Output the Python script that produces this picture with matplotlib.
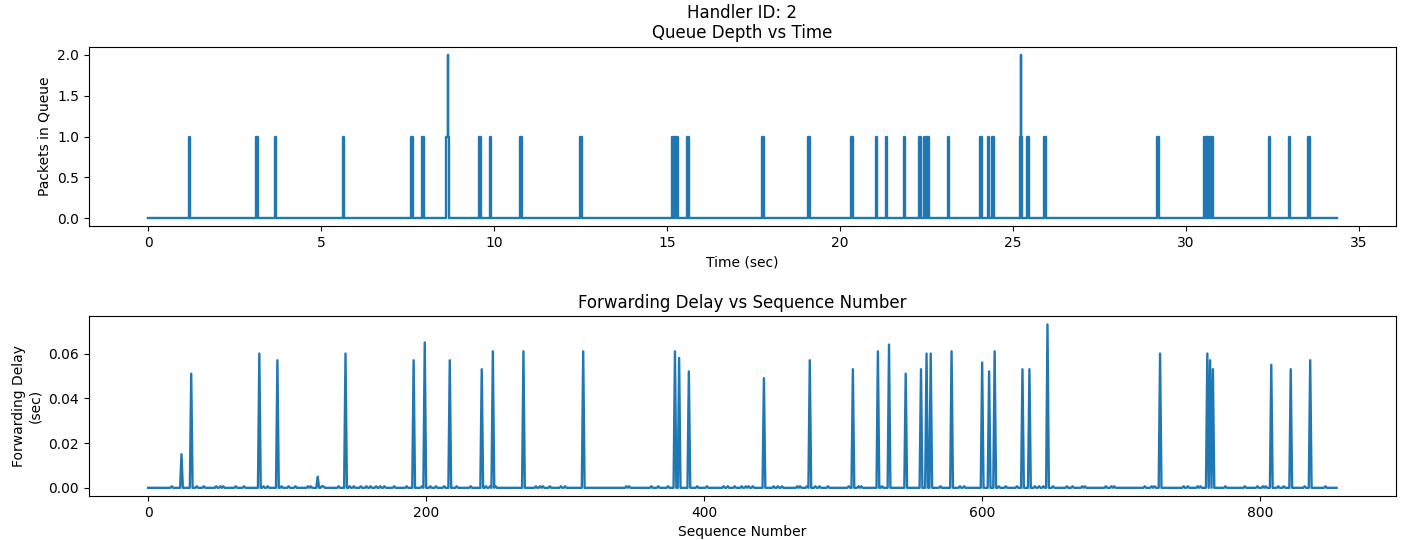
# Queue depth and forwarding delay for handler 2

import numpy as np
import matplotlib.pyplot as plt

# ---- queue depth: packet arrival / departure times (sec)
arrivals = [1.17, 3.13, 3.66, 5.63, 7.60, 7.92, 8.61, 8.67, 9.57, 9.88, 10.76, 12.49,
            15.14, 15.21, 15.28, 15.59, 17.75, 19.08, 20.33, 21.04, 21.33, 21.84,
            22.30, 22.43, 22.52, 23.12, 24.06, 24.27, 24.41, 25.20, 25.24, 25.42,
            25.90, 29.18, 30.53, 30.60, 30.67, 30.73, 32.40, 32.98, 33.54]
departures = [1.215, 3.175, 3.705, 5.675, 7.645, 7.965, 8.675, 8.685, 9.615, 9.925, 10.805, 12.535,
              15.185, 15.255, 15.325, 15.635, 17.795, 19.125, 20.375, 21.085, 21.375, 21.885,
              22.345, 22.475, 22.565, 23.165, 24.105, 24.315, 24.455, 25.245, 25.26, 25.465,
              25.945, 29.225, 30.575, 30.645, 30.715, 30.775, 32.445, 33.025, 33.585]
t_end = 34.36

# ---- forwarding delay per sequence number
n_packets = 856
spike_seq = [24, 31, 80, 93, 122, 142, 191, 199, 217, 240, 248, 270, 313, 379, 382,
             389, 443, 476, 507, 525, 533, 545, 556, 560, 563, 578, 600, 605, 609,
             629, 634, 647, 728, 762, 764, 766, 808, 822, 836]
spike_delay = [0.015, 0.051, 0.060, 0.057, 0.005, 0.060, 0.057, 0.065, 0.057, 0.053,
               0.061, 0.061, 0.061, 0.061, 0.058, 0.052, 0.049, 0.057, 0.053, 0.061,
               0.064, 0.051, 0.053, 0.060, 0.060, 0.061, 0.056, 0.052, 0.061, 0.053,
               0.053, 0.073, 0.060, 0.060, 0.057, 0.053, 0.055, 0.053, 0.057]
bump_seq = [17, 35, 40, 49, 52, 54, 63, 69, 83, 86, 96, 101, 106, 115, 117, 125, 126,
            137, 145, 148, 153, 157, 160, 164, 167, 170, 177, 186, 197, 203, 207, 213,
            222, 232, 243, 246, 250, 279, 282, 284, 289, 297, 300, 344, 346, 362, 367,
            374, 395, 402, 414, 417, 422, 427, 430, 432, 435, 450, 453, 456, 467, 469,
            474, 480, 483, 489, 504, 511, 513, 528, 570, 584, 587, 612, 617, 625, 638,
            641, 644, 651, 661, 665, 672, 674, 689, 693, 695, 717, 722, 724, 745, 748,
            755, 757, 775, 789, 798, 802, 804, 813, 817, 832, 847]
bump_delay = 0.0007

# build queue depth step series
events = sorted([(t, 1) for t in arrivals] + [(t, -1) for t in departures])
q_time = [0.0]
q_depth = [0]
depth = 0
for t, d in events:
    q_time += [t, t]
    q_depth += [depth, depth + d]
    depth += d
q_time.append(t_end)
q_depth.append(0)

seq = np.arange(n_packets)
delay = np.zeros(n_packets)
delay[bump_seq] = bump_delay
delay[spike_seq] = spike_delay

fig, (ax1, ax2) = plt.subplots(2, 1, figsize=(14.08, 5.4), dpi=100)
fig.subplots_adjust(left=0.063, right=0.9915, top=0.9135, bottom=0.0815, hspace=0.5)

ax1.plot(q_time, q_depth, color='#1f77b4', linewidth=1.7)
ax1.set_title('Handler ID: 2\nQueue Depth vs Time')
ax1.set_xlabel('Time (sec)')
ax1.set_ylabel('Packets in Queue')

ax2.plot(seq, delay, color='#1f77b4', linewidth=1.7)
ax2.set_title('Forwarding Delay vs Sequence Number')
ax2.set_xlabel('Sequence Number')
ax2.set_ylabel('Forwarding Delay\n(sec)')

fig.savefig('out.png')
